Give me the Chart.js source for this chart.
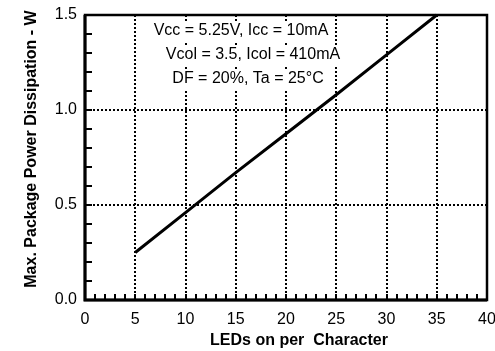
<!DOCTYPE html>
<html>
<head>
<meta charset="utf-8">
<script src="https://cdn.jsdelivr.net/npm/chart.js@4"></script>
<style>
  html, body { margin: 0; padding: 0; background: #fff; }
  canvas { display: block; }
</style>
</head>
<body>
<canvas id="chart" width="495" height="351"></canvas>
<script>
// Maximum package power dissipation vs. number of LEDs lit per character
const ledsOn = [5, 10, 15, 20, 25, 30, 35];
const maxPowerW = [0.25, 0.46, 0.67, 0.875, 1.08, 1.29, 1.5];

const xTickValues = [0, 5, 10, 15, 20, 25, 30, 35, 40];
const yTickValues = [0.0, 0.5, 1.0, 1.5];

const conditionLines = [
  'Vcc = 5.25V, Icc = 10mA',
  'Vcol = 3.5, Icol = 410mA',
  'DF = 20%, Ta = 25°C'
];
const xTitle = 'LEDs on per  Character';
const yTitle = 'Max. Package Power Dissipation - W';

const FONT = '"Liberation Sans", Arial, Helvetica, sans-serif';

// Operating-condition text block with a white backing that hides the grid
const conditionsPlugin = {
  id: 'conditions',
  beforeDatasetsDraw(chart) {
    const ctx = chart.ctx;
    const centers = [241, 253, 248];
    const baselines = [35, 59, 83];
    ctx.save();
    ctx.font = '16px ' + FONT;
    ctx.textAlign = 'center';
    ctx.textBaseline = 'alphabetic';
    conditionLines.forEach((t, i) => {
      const w = ctx.measureText(t).width;
      ctx.fillStyle = '#fff';
      ctx.fillRect(centers[i] - w / 2 - 2, baselines[i] - 14, w + 4, 20);
      ctx.fillStyle = '#000';
      ctx.fillText(t, centers[i], baselines[i]);
    });
    ctx.restore();
  }
};

// Frame, inward minor ticks and axis titles
const framePlugin = {
  id: 'frame',
  afterDraw(chart) {
    const ctx = chart.ctx;
    const a = chart.chartArea;
    const xs = chart.scales.x;
    const ys = chart.scales.y;
    ctx.save();
    ctx.strokeStyle = '#000';
    ctx.lineCap = 'butt';

    // minor ticks on the x axis (every LED), pointing up
    ctx.lineWidth = 2;
    ctx.beginPath();
    for (let i = 0; i <= 40; i++) {
      const px = Math.round(xs.getPixelForValue(i));
      ctx.moveTo(px, a.bottom);
      ctx.lineTo(px, a.bottom - 6);
    }
    // minor ticks on the y axis (every 0.1 W), pointing right
    for (let i = 0; i <= 15; i++) {
      const py = Math.round(ys.getPixelForValue(i / 10));
      ctx.moveTo(a.left, py);
      ctx.lineTo(a.left + 7, py);
    }
    ctx.stroke();

    // plot frame
    ctx.lineWidth = 2.5;
    ctx.strokeRect(a.left, a.top, a.right - a.left, a.bottom - a.top);
    ctx.lineWidth = 3;
    ctx.beginPath();
    ctx.moveTo(a.left, a.top);
    ctx.lineTo(a.left, a.bottom);
    ctx.lineTo(a.right, a.bottom);
    ctx.stroke();

    // axis titles
    ctx.fillStyle = '#000';
    ctx.font = 'bold 16px ' + FONT;
    ctx.textAlign = 'center';
    ctx.textBaseline = 'middle';
    ctx.fillText(xTitle, 299, 341);
    ctx.translate(32, 149);
    ctx.rotate(-Math.PI / 2);
    ctx.fillText(yTitle, 0, 0);
    ctx.restore();
  }
};

const gridColor = (lo, hi) => (c) =>
  (c.tick && c.tick.value > lo && c.tick.value < hi) ? '#000' : 'rgba(0,0,0,0)';

new Chart(document.getElementById('chart'), {
  type: 'line',
  data: {
    datasets: [{
      data: ledsOn.map((x, i) => ({ x: x, y: maxPowerW[i] })),
      borderColor: '#000',
      borderWidth: 3,
      pointRadius: 0,
      tension: 0,
      fill: false,
      clip: false
    }]
  },
  options: {
    responsive: false,
    animation: false,
    events: [],
    layout: { padding: { top: 15, right: 8, left: 0, bottom: 0 } },
    plugins: { legend: { display: false }, tooltip: { enabled: false } },
    scales: {
      x: {
        type: 'linear',
        min: 0,
        max: 40,
        afterBuildTicks: (s) => { s.ticks = xTickValues.map(v => ({ value: v })); },
        afterFit: (s) => { s.height = 51; s.paddingLeft = 0; s.paddingRight = 0; },
        ticks: {
          color: '#000',
          padding: 10,
          font: { family: FONT, size: 16 },
          maxRotation: 0,
          callback: (v) => String(v)
        },
        grid: { color: gridColor(0, 40), lineWidth: 2, drawTicks: false },
        border: { display: false, dash: [2, 2] }
      },
      y: {
        type: 'linear',
        min: 0,
        max: 1.5,
        afterBuildTicks: (s) => { s.ticks = yTickValues.map(v => ({ value: v })); },
        afterFit: (s) => { s.width = 85; s.paddingTop = 0; s.paddingBottom = 0; },
        ticks: {
          color: '#000',
          padding: 8,
          font: { family: FONT, size: 16 },
          callback: (v) => Number(v).toFixed(1)
        },
        grid: { color: gridColor(0, 1.5), lineWidth: 2, drawTicks: false },
        border: { display: false, dash: [2, 2] }
      }
    }
  },
  plugins: [conditionsPlugin, framePlugin]
});
</script>
</body>
</html>
